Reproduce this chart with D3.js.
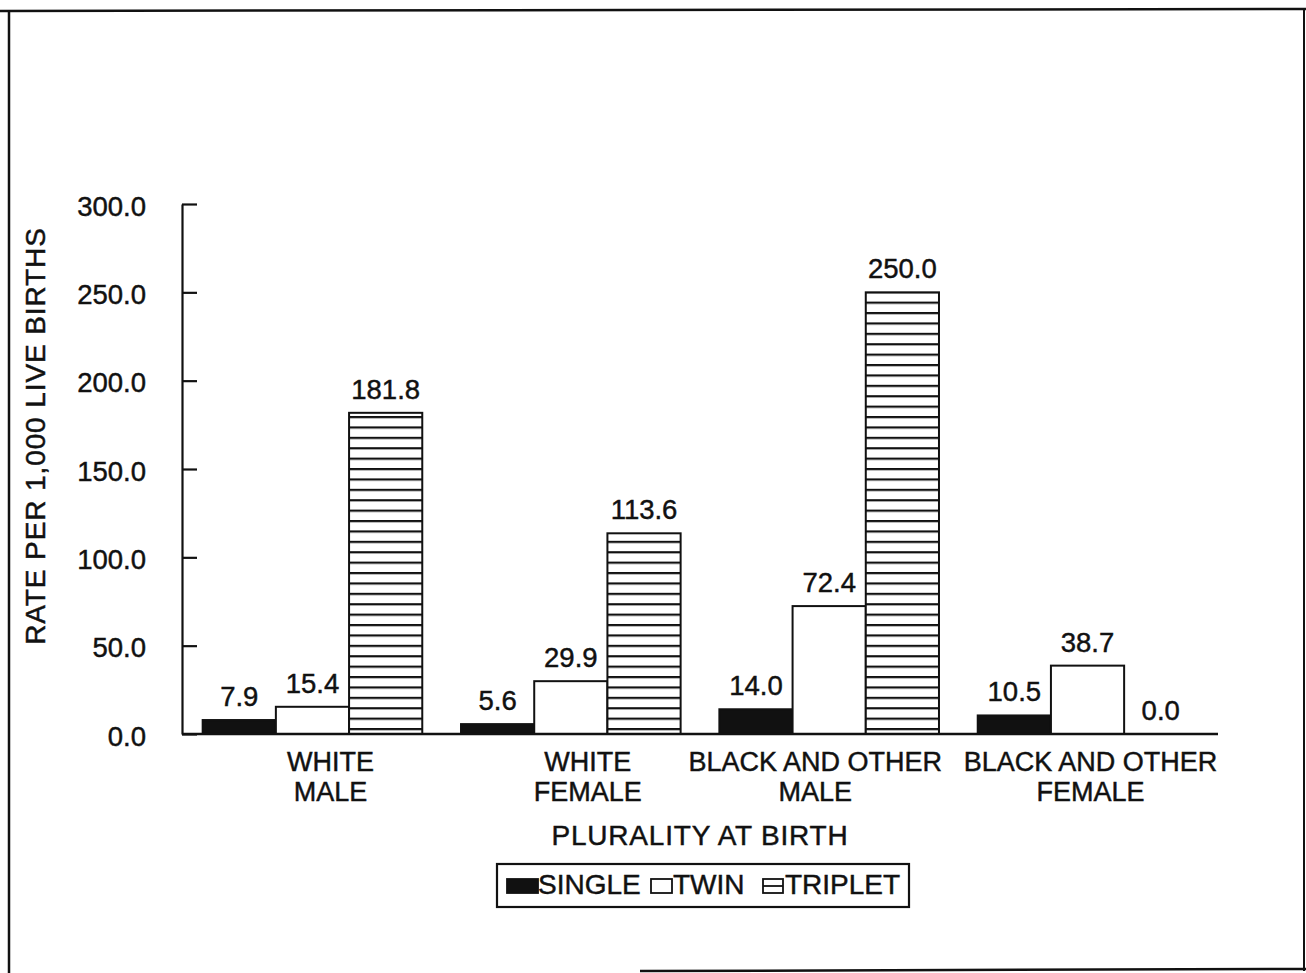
<!DOCTYPE html>
<html><head><meta charset="utf-8">
<script src="https://cdn.jsdelivr.net/npm/d3@7"></script>
<style>
body{margin:0;background:#fff}
text{font-family:"Liberation Sans",Arial,sans-serif;fill:#111;stroke:#111;stroke-width:0.45px}
</style>
</head><body>
<svg id="c" width="1306" height="973"></svg>
<script>
// ---- data ----
const categories = ["WHITE\nMALE", "WHITE\nFEMALE", "BLACK AND OTHER\nMALE", "BLACK AND OTHER\nFEMALE"];
const seriesNames = ["SINGLE", "TWIN", "TRIPLET"];
const single = [7.9, 5.6, 14.0, 10.5];
const twin = [15.4, 29.9, 72.4, 38.7];
const triplet = [181.8, 113.6, 250.0, 0.0];
const yTicks = [0, 50, 100, 150, 200, 250, 300];
const yTitle = "RATE PER 1,000 LIVE BIRTHS";
const xTitle = "PLURALITY AT BIRTH";

const seriesValues = [single, twin, triplet];
const table = categories.map((c, i) => ({cat: c, vals: seriesNames.map((s, j) => ({s, v: seriesValues[j][i]}))}));

// ---- layout ----
const svg = d3.select("#c");
const plotLeft = 182, plotRight = 1218, plotTop = 204, plotBottom = 734;
const catLabelShift = [18, 17, -14, 3];

const defs = svg.append("defs");
const pat = defs.append("pattern").attr("id", "stripes").attr("patternUnits", "userSpaceOnUse")
  .attr("width", 20).attr("height", 10.4).attr("y", 0);
pat.append("rect").attr("width", 20).attr("height", 10.4).attr("fill", "#fff");
pat.append("rect").attr("y", 0).attr("width", 20).attr("height", 2.2).attr("fill", "#111");

// frame
const fr = svg.append("g").attr("stroke", "#111").attr("fill", "none");
fr.append("line").attr("x1", 0).attr("y1", 11).attr("x2", 1306).attr("y2", 9).attr("stroke-width", 2.5);
fr.append("line").attr("x1", 9).attr("y1", 10).attr("x2", 9).attr("y2", 973).attr("stroke-width", 2.5);
fr.append("line").attr("x1", 1304).attr("y1", 9).attr("x2", 1304).attr("y2", 971).attr("stroke-width", 2);
fr.append("line").attr("x1", 640).attr("y1", 971).attr("x2", 1306).attr("y2", 969).attr("stroke-width", 2.5);

const x0 = d3.scaleBand().domain(categories).range([plotLeft, plotRight]).paddingInner(0.15).paddingOuter(0.08);
const x1 = d3.scaleBand().domain(seriesNames).range([0, x0.bandwidth()]).padding(0);
const y = d3.scaleLinear().domain([0, 300]).range([plotBottom, plotTop]);

const fills = {SINGLE: "#111", TWIN: "#fff", TRIPLET: "url(#stripes)"};

// y axis
const yAxis = d3.axisLeft(y).tickValues(yTicks).tickFormat(d3.format(".1f"))
  .tickSize(-15).tickSizeOuter(0).tickPadding(36);
const ga = svg.append("g").attr("transform", `translate(${plotLeft},0)`).call(yAxis);
ga.select(".domain").attr("stroke", "#111").attr("stroke-width", 2.2);
ga.selectAll(".tick line").attr("stroke", "#111").attr("stroke-width", 2.2);
ga.selectAll(".tick text").attr("font-size", 27.5).attr("fill", "#111")
  .attr("font-family", '"Liberation Sans",Arial,sans-serif').attr("dy", "0.4em");

// bars
const groups = svg.append("g").selectAll("g").data(table).join("g")
  .attr("transform", d => `translate(${x0(d.cat)},0)`);
groups.selectAll("rect").data(d => d.vals).join("rect")
  .attr("x", d => x1(d.s)).attr("width", x1.bandwidth())
  .attr("y", d => y(d.v)).attr("height", d => plotBottom - y(d.v))
  .attr("fill", d => fills[d.s]).attr("stroke", "#111").attr("stroke-width", 2);
groups.selectAll("text").data(d => d.vals).join("text")
  .attr("x", d => x1(d.s) + x1.bandwidth() / 2).attr("y", d => y(d.v) - 14)
  .attr("text-anchor", "middle").attr("font-size", 27.5).text(d => d3.format(".1f")(d.v));

// x axis baseline
svg.append("line").attr("x1", plotLeft).attr("x2", plotRight).attr("y1", plotBottom).attr("y2", plotBottom)
  .attr("stroke", "#111").attr("stroke-width", 2.5);

// category labels
const cl = svg.append("g").selectAll("text").data(categories).join("text")
  .attr("text-anchor", "middle").attr("font-size", 27)
  .attr("transform", (d, i) => `translate(${x0(d) + x0.bandwidth() / 2 + catLabelShift[i]},771)`);
cl.selectAll("tspan").data(d => d.split("\n")).join("tspan")
  .attr("x", 0).attr("y", (d, i) => i * 30).text(d => d);

// axis titles
svg.append("text").attr("x", 700).attr("y", 845).attr("text-anchor", "middle")
  .attr("font-size", 28).attr("letter-spacing", "0.8px").text(xTitle);
svg.append("text").attr("transform", "translate(45,436) rotate(-90)").attr("text-anchor", "middle")
  .attr("font-size", 28).attr("letter-spacing", "0.9px").text(yTitle);

// legend
const lg = svg.append("g");
lg.append("rect").attr("x", 497).attr("y", 864).attr("width", 412).attr("height", 43)
  .attr("fill", "#fff").attr("stroke", "#111").attr("stroke-width", 2.2);
const legendItems = [
  {s: "SINGLE", sx: 507, sw: 31, tx: 538},
  {s: "TWIN", sx: 651, sw: 21, tx: 673},
  {s: "TRIPLET", sx: 763, sw: 20, tx: 785}
];
legendItems.forEach(it => {
  lg.append("rect").attr("x", it.sx).attr("y", 879).attr("width", it.sw).attr("height", 14)
    .attr("fill", it.s === "SINGLE" ? "#111" : "#fff").attr("stroke", "#111").attr("stroke-width", 1.8);
  if (it.s === "TRIPLET") {
    lg.append("line").attr("x1", it.sx).attr("x2", it.sx + it.sw).attr("y1", 886).attr("y2", 886)
      .attr("stroke", "#111").attr("stroke-width", 1.8);
  }
  lg.append("text").attr("x", it.tx).attr("y", 894).attr("font-size", 28).text(it.s);
});
</script>
</body></html>
